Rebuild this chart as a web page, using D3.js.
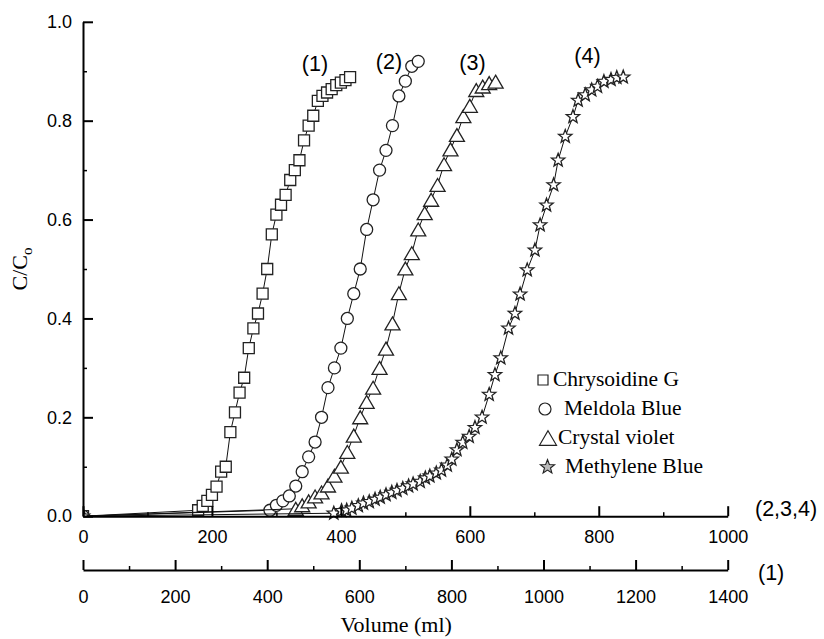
<!DOCTYPE html>
<html><head><meta charset="utf-8">
<script src="https://cdn.jsdelivr.net/npm/d3@7"></script>
<style>body{margin:0;background:#fff}svg{display:block}</style>
</head><body>
<svg id="c" width="824" height="639"></svg>
<script>
// Series (1) Chrysoidine G — plotted on bottom axis (1)
const s1x = [0,250,260,270,280,290,300,310,320,330,340,350,360,370,380,390,400,410,420,430,440,450,460,470,480,490,500,510,520,530,540,550,560,570,580];
const s1y = [0,0.012,0.021,0.031,0.043,0.06,0.09,0.10,0.17,0.21,0.25,0.28,0.34,0.38,0.41,0.45,0.50,0.57,0.61,0.63,0.65,0.68,0.70,0.72,0.76,0.79,0.81,0.84,0.85,0.857,0.864,0.872,0.877,0.882,0.888];
// Series (2) Meldola Blue — top axis (2,3,4)
const s2x = [0,290,300,310,320,330,340,350,360,370,380,390,400,410,420,430,440,450,460,470,480,490,500,510,520];
const s2y = [0,0.012,0.022,0.031,0.041,0.061,0.09,0.12,0.15,0.20,0.26,0.30,0.34,0.40,0.45,0.50,0.58,0.64,0.70,0.74,0.79,0.85,0.88,0.91,0.92];
// Series (3) Crystal violet — top axis
const s3x = [0,330,340,350,360,370,380,390,400,410,420,430,440,450,460,470,480,490,500,510,520,530,540,550,560,570,580,590,600,610,620,630,640];
const s3y = [0,0.015,0.022,0.03,0.04,0.048,0.062,0.082,0.10,0.13,0.163,0.20,0.231,0.26,0.30,0.339,0.39,0.451,0.501,0.532,0.58,0.613,0.64,0.67,0.712,0.742,0.771,0.809,0.83,0.862,0.869,0.876,0.879];
// Series (4) Methylene Blue — top axis
const s4x = [0,389,401,409,417,427,435,444,453,461,470,479,487,496,505,512,523,531,538,548,556,565,572,580,589,599,608,619,630,639,648,660,670,678,689,701,709,719,730,737,748,760,768,779,789,798,808,819,828,838];
const s4y = [0,0.006,0.011,0.012,0.016,0.021,0.026,0.029,0.034,0.038,0.043,0.048,0.052,0.056,0.061,0.065,0.070,0.077,0.081,0.087,0.093,0.103,0.115,0.134,0.149,0.161,0.179,0.200,0.246,0.286,0.320,0.380,0.410,0.449,0.498,0.538,0.589,0.629,0.670,0.720,0.768,0.808,0.841,0.852,0.862,0.869,0.879,0.883,0.887,0.888];

const seriesNames = ["Chrysoidine G","Meldola Blue","Crystal violet","Methylene Blue"];
const curveLabels = ["(1)","(2)","(3)","(4)"];
const topTicks = [0,200,400,600,800,1000];
const bottomTicks = [0,200,400,600,800,1000,1200,1400];
const yTicks = [0,0.2,0.4,0.6,0.8,1.0];

const svg = d3.select("#c");
const SANS = "'Liberation Sans', Arial, sans-serif";
const SERIF = "'Liberation Serif', 'Times New Roman', serif";

const y = d3.scaleLinear().domain([0,1]).range([516.2,21.8]);
const xTop = d3.scaleLinear().domain([0,1000]).range([83,727.7]);
const xBot = d3.scaleLinear().domain([0,1400]).range([83,727.7]);

function starPath(R, r){
  let p = "";
  for (let i=0;i<10;i++){
    const a = -Math.PI/2 + i*Math.PI/5;
    const rr = i%2===0 ? R : r;
    p += (i===0?"M":"L") + (rr*Math.cos(a)).toFixed(2) + "," + (rr*Math.sin(a)).toFixed(2);
  }
  return p + "Z";
}
const markers = {
  square: s => `M${-s/2},${-s/2}h${s}v${s}h${-s}Z`,
  circle: r => `M${r},0A${r},${r} 0 1,1 ${-r},0A${r},${r} 0 1,1 ${r},0Z`,
  triangle: w => `M0,${-w*0.43}L${w/2},${w*0.43}L${-w/2},${w*0.43}Z`,
  star: R => starPath(R, R*0.42)
};

const series = [
  {x:s1x, y:s1y, sx:xBot, m:markers.square(11)},
  {x:s2x, y:s2y, sx:xTop, m:markers.circle(6)},
  {x:s3x, y:s3y, sx:xTop, m:markers.triangle(15)},
  {x:s4x, y:s4y, sx:xTop, m:markers.star(7)}
];

svg.append("clipPath").attr("id","plotclip").append("rect")
  .attr("x",83).attr("y",0).attr("width",760).attr("height",516.2);

const gS = svg.append("g");
series.forEach(s => {
  const pts = s.x.map((v,i)=>[s.sx(v), y(s.y[i]), v]);
  gS.append("path").attr("d", d3.line()(pts.map(p=>[p[0],p[1]])))
    .attr("fill","none").attr("stroke","#111").attr("stroke-width",1);
  const gc = gS.append("g").attr("clip-path","url(#plotclip)");
  gc.selectAll(null).data(pts.filter(p=>p[2]===0)).enter().append("path")
    .attr("d", s.m).attr("transform", p=>`translate(${p[0]},${p[1]})`)
    .attr("fill","#fff").attr("stroke","#222").attr("stroke-width",1.3);
  gS.selectAll(null).data(pts.filter(p=>p[2]!==0)).enter().append("path")
    .attr("d", s.m).attr("transform", p=>`translate(${p[0]},${p[1]})`)
    .attr("fill","#fff").attr("stroke","#222").attr("stroke-width",1.3);
});

function styleAxis(g, fs){
  g.select(".domain").attr("stroke","#000").attr("stroke-width",2);
  g.selectAll(".tick line").attr("stroke","#000").attr("stroke-width",2);
  g.selectAll("text").attr("font-family",SANS).attr("font-size",fs).attr("fill","#000");
}
function minor(g){
  g.select(".domain").remove();
  g.selectAll(".tick line").attr("stroke","#000").attr("stroke-width",1.5);
}
// Y axis
const gy = svg.append("g").attr("transform","translate(83,0)")
  .call(d3.axisLeft(y).tickValues(yTicks).tickFormat(d3.format(".1f")).tickSize(-10).tickSizeOuter(0).tickPadding(11));
styleAxis(gy, 18);
minor(svg.append("g").attr("transform","translate(83,0)")
  .call(d3.axisLeft(y).tickValues([0.1,0.3,0.5,0.7,0.9]).tickFormat("").tickSize(-4).tickSizeOuter(0)));

// top x axis (2,3,4)
const gxt = svg.append("g").attr("transform","translate(0,516.2)")
  .call(d3.axisBottom(xTop).tickValues(topTicks).tickFormat(d3.format("d")).tickSize(-10).tickSizeOuter(0).tickPadding(14));
styleAxis(gxt, 18);
minor(svg.append("g").attr("transform","translate(0,516.2)")
  .call(d3.axisBottom(xTop).tickValues([100,300,500,700,900]).tickFormat("").tickSize(-4).tickSizeOuter(0)));

// bottom x axis (1)
const gxb = svg.append("g").attr("transform","translate(0,570)")
  .call(d3.axisBottom(xBot).tickValues(bottomTicks).tickFormat(d3.format("d")).tickSize(-10).tickSizeOuter(0).tickPadding(20));
styleAxis(gxb, 18);
minor(svg.append("g").attr("transform","translate(0,570)")
  .call(d3.axisBottom(xBot).tickValues([100,300,500,700,900,1100,1300]).tickFormat("").tickSize(-4).tickSizeOuter(0)));

// axis annotations
svg.append("text").attr("x",755).attr("y",516).attr("font-family",SANS).attr("font-size",21.5).text("(2,3,4)");
svg.append("text").attr("x",758).attr("y",580).attr("font-family",SANS).attr("font-size",21.5).text("(1)");

// axis titles
svg.append("text").attr("x",340.5).attr("y",632).attr("font-family",SERIF).attr("font-size",22).text("Volume (ml)");
const yl = svg.append("text").attr("transform","translate(27,269) rotate(-90)")
  .attr("text-anchor","middle").attr("font-family",SERIF).attr("font-size",22);
yl.append("tspan").text("C/C");
yl.append("tspan").attr("font-size",15).attr("dy",5).text("o");

// curve labels
const labelPos = [[315,63],[389,61],[472.5,62],[587.5,55]];
curveLabels.forEach((t,i)=>{
  svg.append("text").attr("x",labelPos[i][0]).attr("y",labelPos[i][1]+8)
    .attr("text-anchor","middle").attr("font-family",SANS).attr("font-size",21.5).text(t);
});

// legend
const legY = [379,408,437,466];
const legSym = [
  {m:markers.square(10), x:543, sw:1.2},
  {m:markers.circle(6), x:545, sw:1.2},
  {m:markers.triangle(17), x:548, sw:1.2},
  {m:markers.star(7.5), x:547.5, sw:1.1}
];
const legTx = [553,564,558,565];
seriesNames.forEach((n,i)=>{
  svg.append("path").attr("d",legSym[i].m).attr("transform",`translate(${legSym[i].x},${legY[i]+1})`)
    .attr("fill", i===3 ? "#bbb" : "#fff").attr("stroke","#222").attr("stroke-width",legSym[i].sw);
  svg.append("text").attr("x",legTx[i]).attr("y",legY[i]+7).attr("font-family",SERIF).attr("font-size",21.5).text(n);
});
</script>
</body></html>
